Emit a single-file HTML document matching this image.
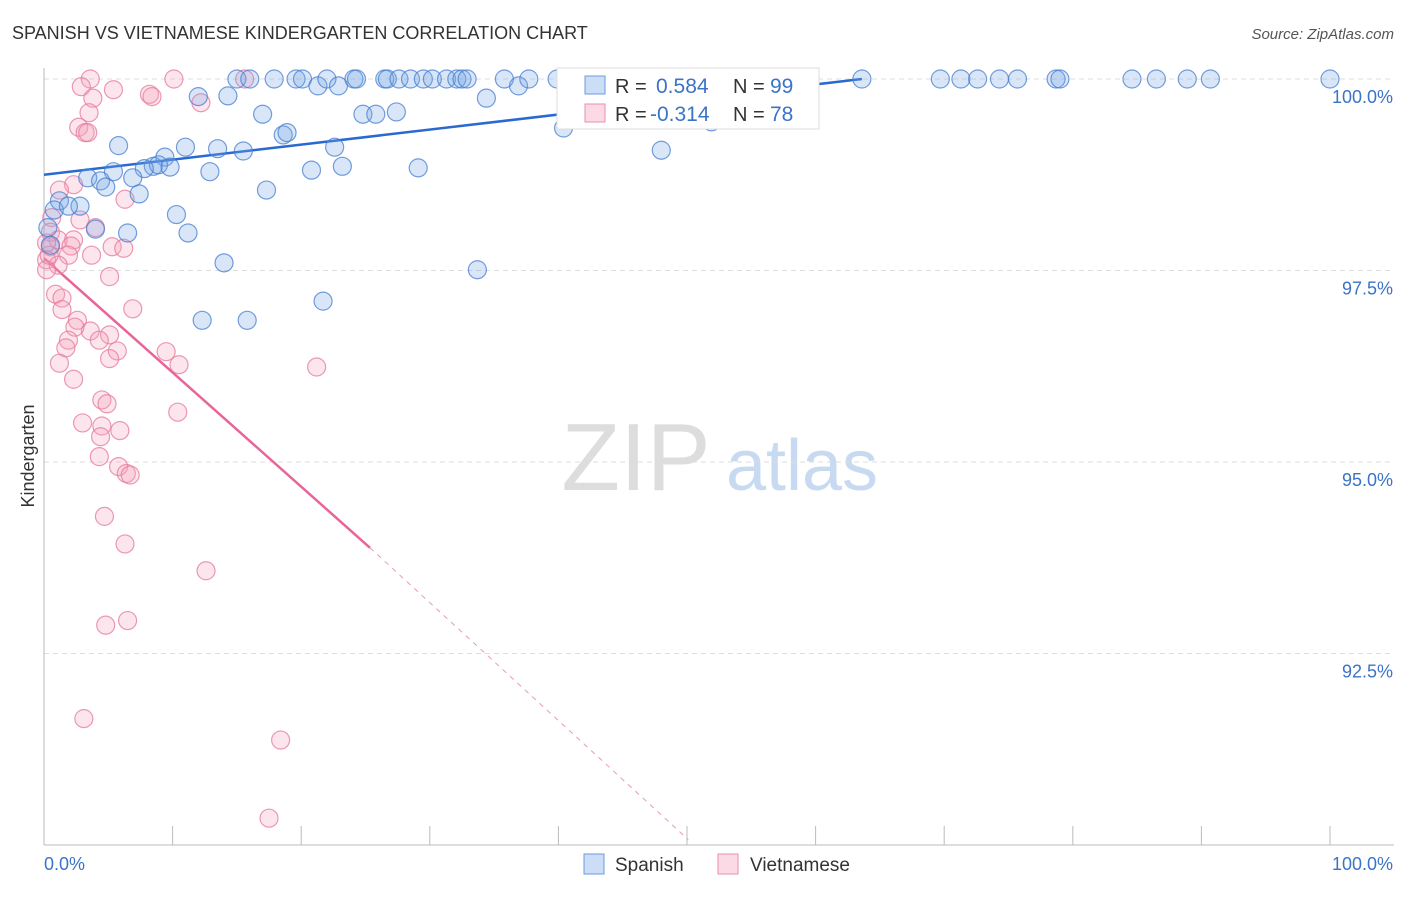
<!DOCTYPE html>
<html><head><meta charset="utf-8"><style>
body{margin:0;background:#fff;font-family:"Liberation Sans",sans-serif;}
svg text{font-family:"Liberation Sans",sans-serif;}
</style></head><body>
<svg id="chart" width="1406" height="892" xmlns="http://www.w3.org/2000/svg">
<text x="12" y="39" font-size="18" fill="#333">SPANISH VS VIETNAMESE KINDERGARTEN CORRELATION CHART</text>
<text x="1394" y="39" font-size="15" fill="#555" text-anchor="end" font-style="italic">Source: ZipAtlas.com</text>
<g>
<text x="636" y="490" font-size="96" fill="#ddd" font-family="Liberation Serif" text-anchor="middle">ZIP</text>
<text x="802" y="490" font-size="72" fill="#c8daf2" text-anchor="middle">atlas</text>
</g>
<g id="grid"></g>
<g id="axes"></g>
<g id="lines"></g>
<g id="points"></g>
<g>
<rect x="557" y="68" width="262" height="61" fill="#fff" stroke="#ddd"/>
<rect x="585" y="76" width="20" height="18" fill="rgba(110,160,230,0.35)" stroke="#6a9be0"/>
<text x="615" y="93" font-size="20" fill="#333">R = </text><text x="656" y="93" font-size="21" fill="#3b73c8">0.584</text>
<text x="733" y="93" font-size="20" fill="#333">N = </text><text x="770" y="93" font-size="21" fill="#3b73c8">99</text>
<rect x="585" y="104" width="20" height="18" fill="rgba(245,150,180,0.35)" stroke="#ea8fae"/>
<text x="615" y="121" font-size="20" fill="#333">R = </text><text x="650" y="121" font-size="21" fill="#3b73c8">-0.314</text>
<text x="733" y="121" font-size="20" fill="#333">N = </text><text x="770" y="121" font-size="21" fill="#3b73c8">78</text>
</g>
<g>
<rect x="584" y="854" width="20" height="20" fill="rgba(110,160,230,0.35)" stroke="#6a9be0"/>
<text x="615" y="871" font-size="19" fill="#333">Spanish</text>
<rect x="718" y="854" width="20" height="20" fill="rgba(245,150,180,0.35)" stroke="#ea8fae"/>
<text x="750" y="871" font-size="19" fill="#333">Vietnamese</text>
</g>
<text transform="translate(34,456) rotate(-90)" font-size="18" fill="#333" text-anchor="middle">Kindergarten</text>
</svg>
<script>
const yTicks=[100,97.5,95,92.5];
const yTickLabels=["100.0%","97.5%","95.0%","92.5%"];
const xTicks=[0,10,20,30,40,50,60,70,80,90,100];
const spanishX=[15.0,16.0,17.9,19.6,20.1,21.3,22.0,22.9,24.1,24.3,26.5,26.7,27.6,28.5,29.5,30.2,31.3,32.1,32.5,32.9,35.8,36.9,37.7,39.9,41.9,43.5,44.8,46.3,47.5,49.3,50.9,52.6,54.7,56.2,63.6,69.7,71.3,72.6,74.3,75.7,78.7,79.0,84.6,86.5,88.9,90.7,100,
12.0,14.3,34.4,17.0,24.8,25.8,27.4,40.4,51.9,18.6,18.9,5.8,11.0,13.5,15.5,22.6,48.0,9.4,8.5,8.9,9.8,7.8,5.4,12.9,20.8,23.2,29.1,3.4,4.4,6.9,4.8,17.3,7.4,1.2,2.8,0.8,1.9,10.3,4.0,6.5,11.2,14.0,33.7,21.7,12.3,15.8,0.5,0.3];
const spanishY=[100,100,100,100,100,99.91,100,99.91,100,100,100,100,100,100,100,100,100,100,100,100,100,99.91,100,100,100,100,100,100,100,100,100,100,100,100,100,100,100,100,100,100,100,100,100,100,100,100,100,
99.77,99.78,99.75,99.54,99.54,99.54,99.57,99.36,99.44,99.27,99.30,99.13,99.11,99.09,99.06,99.11,99.07,98.98,98.86,98.88,98.85,98.83,98.79,98.79,98.81,98.86,98.84,98.71,98.67,98.71,98.59,98.55,98.50,98.41,98.34,98.29,98.34,98.23,98.04,97.99,97.99,97.60,97.51,97.10,96.85,96.85,97.83,98.06];
const vietX=[3.6,10.1,15.6,47.2,2.9,5.4,8.2,8.4,3.8,12.2,3.5,2.7,3.2,3.4,2.3,1.2,6.3,0.6,2.8,4.0,0.5,1.1,2.3,2.1,5.3,6.2,3.7,1.9,0.5,0.2,1.1,0.2,5.1,6.9,0.9,1.4,1.4,2.6,3.6,5.1,2.4,1.9,1.7,5.7,5.1,9.5,10.5,4.3,1.2,2.3,21.2,4.5,4.9,10.4,3.0,4.5,5.9,4.4,4.3,5.8,6.4,6.7,4.7,6.3,12.6,4.8,6.5,3.1,18.4,17.5,0.4,0.2];
const vietY=[100,100,100,100,99.90,99.86,99.80,99.77,99.75,99.69,99.56,99.37,99.30,99.30,98.62,98.55,98.43,98.19,98.16,98.06,98.00,97.90,97.90,97.82,97.81,97.79,97.70,97.70,97.81,97.64,97.57,97.51,97.42,97.00,97.19,97.14,96.99,96.85,96.71,96.66,96.76,96.59,96.49,96.45,96.35,96.44,96.27,96.59,96.29,96.08,96.24,95.81,95.76,95.65,95.51,95.47,95.41,95.33,95.07,94.94,94.85,94.83,94.29,93.93,93.58,92.87,92.93,91.65,91.37,90.35,97.70,97.86];
const spanishTrend=[[0,98.75],[63.6,100]];
const vietTrendSolid=[[0,97.66],[25.35,93.88]];
const vietTrendDash=[[25.35,93.88],[50.1,90.07]];

const NS="http://www.w3.org/2000/svg";
const X=v=>44+v*12.86;
const Y=v=>79+(100-v)*76.6;
function mk(tag,parent,attrs){const e=document.createElementNS(NS,tag);for(const k in attrs)e.setAttribute(k,attrs[k]);document.getElementById(parent).appendChild(e);return e;}
yTicks.forEach((t,i)=>{
  const l=mk('line','grid',{x1:44,x2:1394,y1:Y(t),y2:Y(t),stroke:'#ddd','stroke-dasharray':'5,4'});
  
  
  const tx=mk('text','grid',{x:1393,y:Y(t)+24,'font-size':18,fill:'#3b73c8','text-anchor':'end'});
  tx.textContent=yTickLabels[i];
  
  
});
const ax=mk('line','axes',{x1:44,x2:1394,y1:845,y2:845,stroke:'#bbb'});


const ay=mk('line','axes',{x1:44,x2:44,y1:68,y2:845,stroke:'#bbb'});


xTicks.forEach(t=>{
  const l=mk('line','axes',{x1:X(t),x2:X(t),y1:826,y2:845,stroke:'#bbb'});
  
  
});
const xl0=mk('text','axes',{x:44,y:870,'font-size':18,fill:'#3b73c8'});xl0.textContent='0.0%';


const xl1=mk('text','axes',{x:1393,y:870,'font-size':18,fill:'#3b73c8','text-anchor':'end'});xl1.textContent='100.0%';


function pt(xs,ys,fill,stroke,name){xs.forEach((v,i)=>{const c=mk('circle','points',{cx:X(v),cy:Y(ys[i]),r:9,fill:fill,stroke:stroke,'stroke-width':1.2});

});}
pt(vietX,vietY,'rgba(245,160,185,0.28)','rgba(230,120,155,0.75)','vietnamese-point');
pt(spanishX,spanishY,'rgba(120,165,230,0.28)','rgba(70,125,210,0.75)','spanish-point');
function ln(p,stroke,w,dash,name){const l=mk('line','lines',{x1:X(p[0][0]),y1:Y(p[0][1]),x2:X(p[1][0]),y2:Y(p[1][1]),stroke:stroke,'stroke-width':w});if(dash)l.setAttribute('stroke-dasharray',dash);

}
ln(spanishTrend,'#2a6ad0',2.5,null,'spanish-trendline');
ln(vietTrendSolid,'#e8649a',2.5,null,'vietnamese-trendline');
ln(vietTrendDash,'#e89ab8',1,'5,5','vietnamese-trendline-extension');
</script>
</body></html>
